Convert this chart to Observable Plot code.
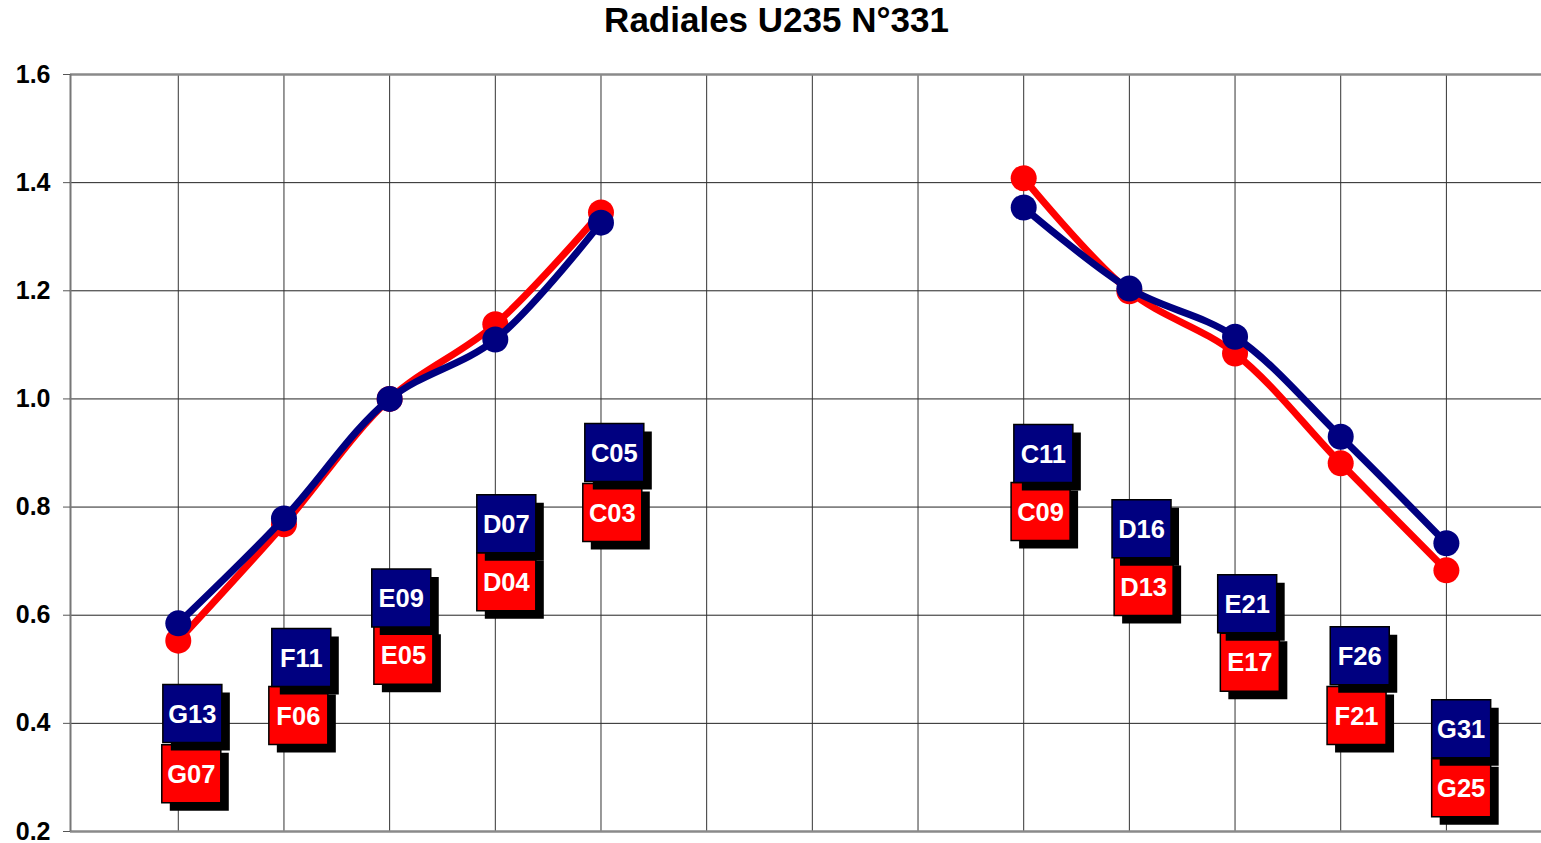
<!DOCTYPE html>
<html>
<head>
<meta charset="utf-8">
<script src="https://cdn.jsdelivr.net/npm/d3@7"></script>
<script src="https://cdn.jsdelivr.net/npm/@observablehq/plot@0.6"></script>
<style>
  html, body { margin: 0; padding: 0; background: #fff; }
  #title { height: 50px; line-height: 60px; text-align: center; padding-left: 12px; overflow: visible;
           font: bold 35px "Liberation Sans", Arial, sans-serif; color: #000; }
</style>
</head>
<body>
<div id="title">Radiales U235 N°331</div>
<div id="chart"></div>
<script>
// ---- data ----
const positions   = [1, 2, 3, 4, 5, 9, 10, 11, 12, 13];
const sides       = ["L", "L", "L", "L", "L", "R", "R", "R", "R", "R"];
const redLabels   = ["G07", "F06", "E05", "D04", "C03", "C09", "D13", "E17", "F21", "G25"];
const blueLabels  = ["G13", "F11", "E09", "D07", "C05", "C11", "D16", "E21", "F26", "G31"];
const redValues   = [0.553, 0.768, 1.0, 1.138, 1.345, 1.408, 1.199, 1.084, 0.881, 0.683];
const blueValues  = [0.585, 0.779, 1.0, 1.110, 1.326, 1.354, 1.204, 1.115, 0.930, 0.733];
const blueLabelX  = [1.133, 2.164, 3.11, 4.104, 5.126, 9.186, 10.115, 11.115, 12.18, 13.14];
const blueLabelY  = [0.418, 0.522, 0.632, 0.769, 0.901, 0.899, 0.760, 0.621, 0.525, 0.390];
const redLabelX   = [1.123, 2.136, 3.13, 4.104, 5.107, 9.16, 10.135, 11.14, 12.15, 13.14];
const redLabelY   = [0.307, 0.4145, 0.526, 0.662, 0.790, 0.792, 0.653, 0.513, 0.4145, 0.281];
const yTicks      = [0.2, 0.4, 0.6, 0.8, 1.0, 1.2, 1.4, 1.6];
const xGrid       = [1, 2, 3, 4, 5, 6, 7, 8, 9, 10, 11, 12, 13];

const RED = "#FF0000", BLUE = "#000080";
const xMin = -0.02, xMax = 13.9;

const redData  = positions.map((p, i) => ({x: p, y: redValues[i], side: sides[i]}));
const blueData = positions.map((p, i) => ({x: p, y: blueValues[i], side: sides[i]}));
const redLab   = redLabels.map((t, i) => ({x: redLabelX[i], y: redLabelY[i], t}));
const blueLab  = blueLabels.map((t, i) => ({x: blueLabelX[i], y: blueLabelY[i], t}));

const boxSymbol = { draw(ctx) { ctx.rect(-29.5, -29, 59, 58); } };

const labelMarks = (data, color) => [
  Plot.dot(data, {x: "x", y: "y", symbol: boxSymbol, fill: "black", stroke: "none", dx: 8, dy: 8}),
  Plot.dot(data, {x: "x", y: "y", symbol: boxSymbol, fill: color, stroke: "black", strokeWidth: 1.5}),
  Plot.text(data, {x: "x", y: "y", text: "t", fill: "white", fontSize: 25.5, fontWeight: "bold",
                   fontFamily: "'Liberation Sans', Arial, sans-serif", dy: 1})
];

const chart = Plot.plot({
  width: 1541,
  height: 793,
  marginLeft: 70,
  marginRight: 0,
  marginTop: 24,
  marginBottom: 12,
  style: {fontFamily: "'Liberation Sans', Arial, sans-serif", fontSize: "25px", fontWeight: "bold", color: "#000", background: "#fff"},
  x: {type: "linear", domain: [xMin, xMax], axis: null},
  y: {domain: [0.2, 1.6], axis: null},
  marks: [
    Plot.gridY(yTicks.slice(1, -1), {stroke: "#222", strokeOpacity: 1, strokeWidth: 1}),
    Plot.gridX(xGrid, {stroke: "#333", strokeOpacity: 1, strokeWidth: 1}),
    Plot.ruleY([0.2, 1.6], {stroke: "#8a8a8a", strokeWidth: 2.5}),
    Plot.ruleX([xMin], {stroke: "#777", strokeWidth: 2}),
    Plot.axisY(yTicks, {tickSize: 7, tickPadding: 13, tickFormat: ".1f", stroke: "#555", label: null,
                        fontSize: 25, fontWeight: "bold"}),
    ...labelMarks(redLab, RED),
    ...labelMarks(blueLab, BLUE),
    Plot.line(redData, {x: "x", y: "y", z: "side", stroke: RED, strokeWidth: 7, curve: "catmull-rom"}),
    Plot.dot(redData, {x: "x", y: "y", r: 13, fill: RED, stroke: "none"}),
    Plot.line(blueData, {x: "x", y: "y", z: "side", stroke: BLUE, strokeWidth: 7, curve: "catmull-rom"}),
    Plot.dot(blueData, {x: "x", y: "y", r: 13, fill: BLUE, stroke: "none"})
  ]
});
document.getElementById("chart").appendChild(chart);
</script>
</body>
</html>
